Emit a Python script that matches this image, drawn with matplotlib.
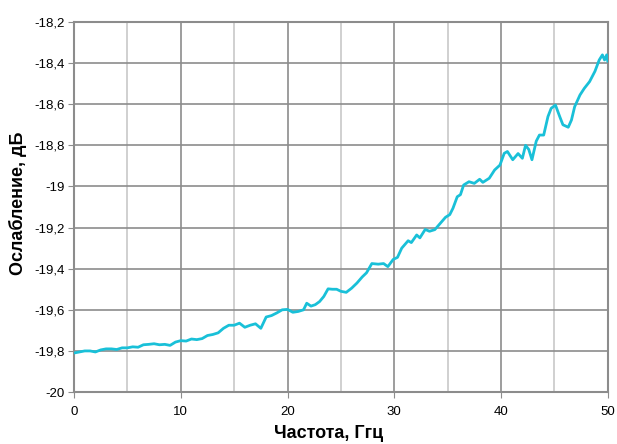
import matplotlib
matplotlib.use('Agg')
import matplotlib.pyplot as plt
from matplotlib.ticker import FuncFormatter, MultipleLocator

plt.rcParams['font.family'] = ['Liberation Sans', 'DejaVu Sans']

# frequency, GHz
freq = [0.0, 0.5, 1.0, 1.5, 2.0, 2.5, 3.0, 3.5, 4.0, 4.5, 5.0, 5.5, 6.0, 6.5,
        7.0, 7.5, 8.0, 8.5, 9.0, 9.5, 10.0, 10.5, 11.0, 11.5, 12.0, 12.5,
        13.0, 13.5, 14.0, 14.5, 15.0, 15.5, 16.0, 16.5, 17.0, 17.5, 18.0,
        18.5, 19.0, 19.5, 20.0, 20.5, 21.0, 21.5, 21.8, 22.2, 22.6, 23.0,
        23.4, 23.8, 24.2, 24.6, 25.0, 25.5, 26.0, 26.5, 27.0, 27.4, 27.9,
        28.5, 29.0, 29.4, 29.9, 30.3, 30.7, 31.3, 31.6, 32.1, 32.4, 32.9,
        33.3, 33.8, 34.3, 34.8, 35.2, 35.5, 35.9, 36.2, 36.5, 37.0, 37.5,
        38.0, 38.3, 38.9, 39.4, 39.9, 40.3, 40.6, 41.1, 41.6, 42.0, 42.3,
        42.6, 42.9, 43.3, 43.6, 44.0, 44.4, 44.7, 45.1, 45.5, 45.8, 46.3,
        46.6, 46.9, 47.4, 47.8, 48.3, 48.8, 49.2, 49.5, 49.7, 49.9, 50.0]

# attenuation, dB
atten = [-19.81, -19.805, -19.80, -19.80, -19.805, -19.795, -19.79, -19.79,
         -19.793, -19.785, -19.785, -19.78, -19.782, -19.77, -19.768,
         -19.765, -19.77, -19.768, -19.773, -19.757, -19.75, -19.752,
         -19.742, -19.745, -19.74, -19.725, -19.72, -19.712, -19.69,
         -19.675, -19.675, -19.665, -19.685, -19.675, -19.668, -19.69,
         -19.635, -19.628, -19.615, -19.60, -19.598, -19.612, -19.608,
         -19.60, -19.568, -19.582, -19.575, -19.56, -19.535, -19.498,
         -19.50, -19.50, -19.51, -19.515, -19.495, -19.47, -19.44, -19.42,
         -19.375, -19.378, -19.375, -19.39, -19.355, -19.345, -19.30,
         -19.264, -19.273, -19.236, -19.25, -19.209, -19.218, -19.21,
         -19.18, -19.15, -19.137, -19.106, -19.05, -19.04, -18.993, -18.977,
         -18.985, -18.965, -18.98, -18.96, -18.92, -18.896, -18.839, -18.83,
         -18.87, -18.84, -18.863, -18.80, -18.82, -18.87, -18.78, -18.75,
         -18.75, -18.66, -18.62, -18.604, -18.66, -18.70, -18.712, -18.677,
         -18.612, -18.555, -18.523, -18.49, -18.44, -18.385, -18.36, -18.385,
         -18.36, -18.39]

fig = plt.figure(figsize=(6.17, 4.44), dpi=100)
ax = fig.add_axes([0.12, 0.117, 0.865, 0.8335])

ax.plot(freq, atten, color='#19c0d8', lw=2.0, zorder=3)

ax.set_xlim(0, 50)
ax.set_ylim(-20, -18.2)
ax.xaxis.set_major_locator(MultipleLocator(10))
ax.xaxis.set_minor_locator(MultipleLocator(5))
ax.yaxis.set_major_locator(MultipleLocator(0.2))

ax.grid(which='major', axis='both', color='#8c8c8c', lw=1.2)
ax.grid(which='minor', axis='x', color='#c8c8c8', lw=1.2)

fmt = FuncFormatter(lambda v, p: ('%g' % round(v, 1)).replace('.', ','))
ax.yaxis.set_major_formatter(fmt)

for s in ax.spines.values():
    s.set_color('#8c8c8c')
    s.set_linewidth(1.5)

ax.tick_params(axis='y', which='major', length=4, color='#8c8c8c',
               labelsize=9.5, pad=3)
ax.tick_params(axis='x', which='major', length=4, color='#8c8c8c',
               labelsize=9.5, pad=6)
ax.tick_params(axis='x', which='minor', length=0)

ax.set_xlabel('Частота, Ггц', fontsize=13, fontweight='bold')
ax.set_ylabel('Ослабление, дБ', fontsize=13, fontweight='bold')
ax.xaxis.set_label_coords(0.476, -0.088)
ax.yaxis.set_label_coords(-0.088, 0.51)

fig.savefig('out.png', dpi=100)
